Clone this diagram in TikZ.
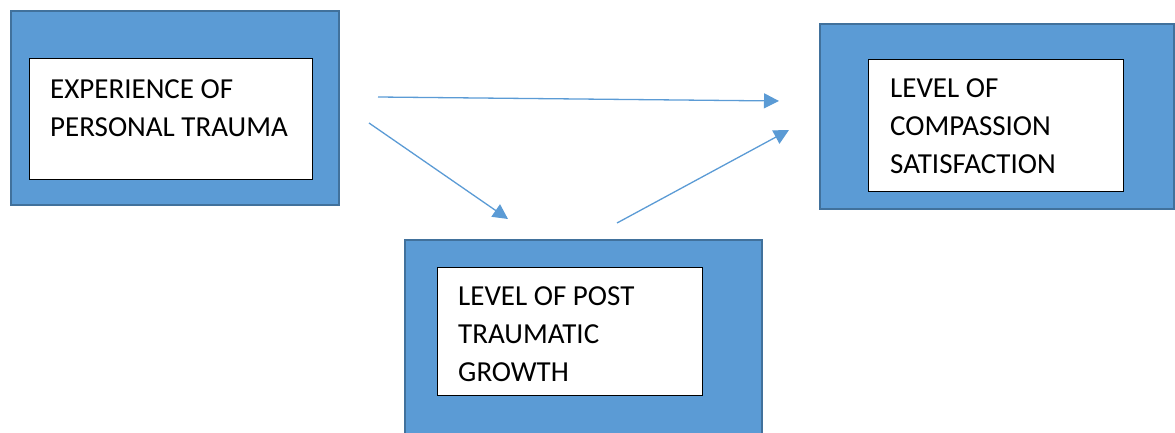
\documentclass[tikz,border=0pt]{standalone}
\usepackage{fontspec}
\setmainfont{Carlito}
\usetikzlibrary{arrows.meta}
\definecolor{boxblue}{HTML}{5B9BD5}
\definecolor{boxedge}{HTML}{41719C}
\begin{document}
\begin{tikzpicture}[x=1pt,y=-1pt,
  outerbox/.style={draw=boxedge,fill=boxblue,line width=1.8pt,inner sep=0,anchor=north west},
  innerbox/.style={draw=black,fill=white,line width=0.9pt,inner sep=0,anchor=north west},
  label/.style={anchor=base west,inner sep=0,align=left,font=\fontsize{29}{37.7}\selectfont},
  link/.style={draw=boxblue,line width=1.3pt,-{Triangle[length=15pt,width=15pt]}}]
\useasboundingbox (0,0) rectangle (1175,433);
% left
\node[outerbox,minimum width=328pt,minimum height=194pt] (a) at (10,10) {};
\node[innerbox,minimum width=283pt,minimum height=121pt] (ai) at (29,58) {};
\node[label] (at) at (50,136) {EXPERIENCE OF\\PERSONAL TRAUMA};
% right
\node[outerbox,minimum width=354pt,minimum height=185pt] (c) at (819,23) {};
\node[innerbox,minimum width=255pt,minimum height=132pt] (ci) at (868,59) {};
\node[label] (ct) at (890,173) {LEVEL OF\\COMPASSION\\SATISFACTION};
% bottom
\node[outerbox,minimum width=357pt,minimum height=200pt] (b) at (404,239) {};
\node[innerbox,minimum width=265pt,minimum height=128pt] (bi) at (437,267) {};
\node[label] (bt) at (458,381) {LEVEL OF POST\\TRAUMATIC\\GROWTH};
% arrows
\coordinate (p1) at (378,97);
\coordinate (q1) at (779,101);
\coordinate (p2) at (369,123);
\coordinate (q2) at (508,219);
\coordinate (p3) at (617,223);
\coordinate (q3) at (789,130);
\draw[link] (p1) -- (q1);
\draw[link] (p2) -- (q2);
\draw[link] (p3) -- (q3);
\end{tikzpicture}
\end{document}
